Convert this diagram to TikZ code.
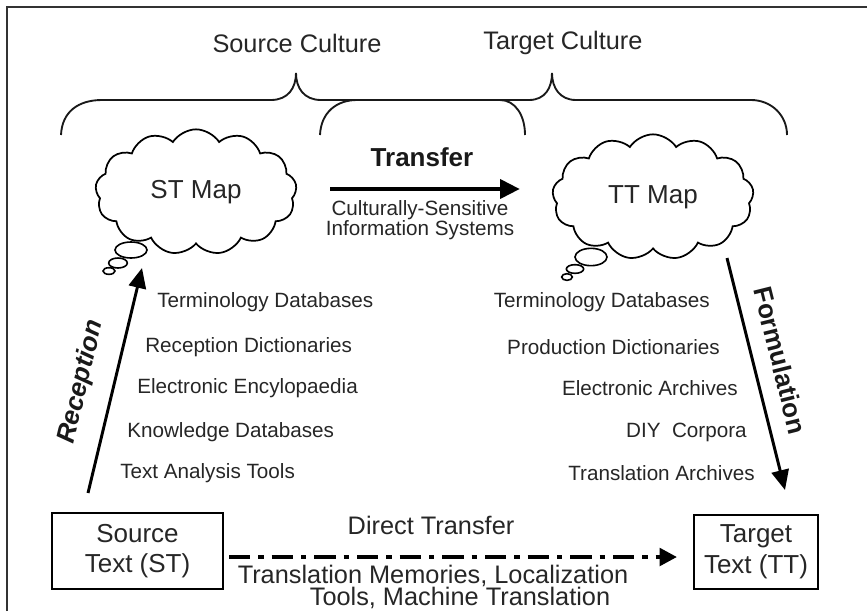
\documentclass[tikz,border=0pt]{standalone}
\usepackage{fontspec}
\setmainfont{Liberation Sans}
\usetikzlibrary{shapes.symbols,shapes.geometric,arrows.meta}
\begin{document}
\begin{tikzpicture}[x=0.75pt,y=-0.75pt,
  big/.style={font=\fontsize{19}{23}\selectfont, text=black!85, inner sep=0pt},
  item/.style={font=\fontsize{15.5}{18}\selectfont, text=black!85, inner sep=0pt},
  bracepath/.style={line width=1.4pt, black!90},
  mapcloud/.style={draw, line width=1.3pt, cloud, cloud puffs=13, cloud puff arc=115,
     cloud ignores aspect, minimum width=151pt, minimum height=94pt,
     font=\fontsize{19.5}{23}\selectfont, text=black!85},
  bubble/.style={draw, fill=white, line width=1.2pt, ellipse, inner sep=0pt},
  textbox/.style={draw, line width=1.5pt, align=center, inner sep=0pt,
     font=\fontsize{19.5}{23}\selectfont, text=black!85},
  bigarrow/.style={line width=2.2pt, -{Triangle[length=15pt,width=13pt]}},
  labelbold/.style={font=\fontsize{19.5}{23}\selectfont\bfseries, text=black!90, inner sep=0pt}
]
\useasboundingbox (0,0) rectangle (867,611);
% frame (cropped at right and bottom)
\draw[line width=1.5pt, black!80] (7,611) -- (7,7) -- (867,7);

% culture labels
\node[big] (sc) at (297,43) {Source Culture};
\node[big] (tc) at (563,43) {Target Culture};

% braces
\draw[bracepath] (61,135) .. controls (62,112) and (78,100) .. (102,100) -- (271,100)
  .. controls (288,100) and (296,88) .. (296,73)
  .. controls (296,88) and (304,100) .. (321,100) -- (500,100)
  .. controls (515,100) and (525,115) .. (525,135);
\draw[bracepath] (320,135) .. controls (321,112) and (337,100) .. (357,100) -- (529,100)
  .. controls (545,100) and (552,88) .. (552,73)
  .. controls (552,88) and (560,100) .. (576,100) -- (751,100)
  .. controls (771,100) and (787,115) .. (787,135);

% clouds
\node[mapcloud] (stmap) at (196,192) {ST Map};
\node[bubble, minimum width=24pt, minimum height=12pt] (stb1) at (131,250) {};
\node[bubble, minimum width=14pt, minimum height=7.5pt] (stb2) at (118,263) {};
\node[bubble, minimum width=9pt, minimum height=5pt] (stb3) at (109,271) {};

\node[mapcloud] (ttmap) at (653,197) {TT Map};
\node[bubble, minimum width=24pt, minimum height=13pt] (ttb1) at (591,257) {};
\node[bubble, minimum width=13pt, minimum height=6.5pt] (ttb2) at (575,269) {};
\node[bubble, minimum width=8pt, minimum height=5pt] (ttb3) at (567,277) {};

% transfer
\coordinate (trS) at (330,189);
\coordinate (trE) at (520,189);
\draw[line width=3.6pt, -{Triangle[length=15pt,width=14pt]}] (trS) -- (trE);
\node[labelbold] (trl) at (422,157) {Transfer};
\node[item] (cs1) at (420,210) {Culturally-Sensitive};
\node[item] (cs2) at (420,230) {Information Systems};

% boxes
\node[textbox, minimum width=128pt, minimum height=57pt] (stbox) at (137.5,551) {Source\\Text (ST)};
\node[textbox, minimum width=93pt, minimum height=56pt] (ttbox) at (756,552) {Target\\Text (TT)};

% reception
\coordinate (recS) at (88,493);
\coordinate (recE) at (142,268);
\draw[bigarrow] (recS) -- (recE)
  node[pos=0.46, sloped, above=14pt, labelbold, font=\fontsize{19.5}{23}\selectfont\bfseries\itshape] (recl) {Reception};

% formulation
\coordinate (foS) at (727,258);
\coordinate (foE) at (785,490);
\draw[bigarrow] (foS) -- (foE)
  node[pos=0.47, sloped, above=12pt, labelbold] (fol) {Formulation};

% left resources
\node[item, anchor=west] (l1) at (157,302) {Terminology Databases};
\node[item, anchor=west] (l2) at (145,347) {Reception Dictionaries};
\node[item, anchor=west] (l3) at (137,388) {Electronic Encylopaedia};
\node[item, anchor=west] (l4) at (127,432) {Knowledge Databases};
\node[item, anchor=west] (l5) at (120,473) {Text Analysis Tools};

% right resources
\node[item, anchor=east] (r1) at (710,302) {Terminology Databases};
\node[item, anchor=east] (r2) at (720,347) {Production Dictionaries};
\node[item, anchor=east] (r3) at (738,388) {Electronic Archives};
\node[item, anchor=east] (r4) at (747,432) {DIY\ \ Corpora};
\node[item, anchor=east] (r5) at (755,473) {Translation Archives};

% direct transfer
\coordinate (dtS) at (229,557);
\coordinate (dtE) at (677,557);
\draw[line width=3pt, dash pattern=on 16pt off 6pt on 4pt off 6pt,
  -{Triangle[length=13pt,width=13pt]}] (dtS) -- (dtE);
\node[big] (dtl) at (431,525) {Direct Transfer};
\node[big] (tm1) at (433,576) {Translation Memories, Localization};
\node[big] (tm2) at (460,598) {Tools, Machine Translation};
\end{tikzpicture}
\end{document}
